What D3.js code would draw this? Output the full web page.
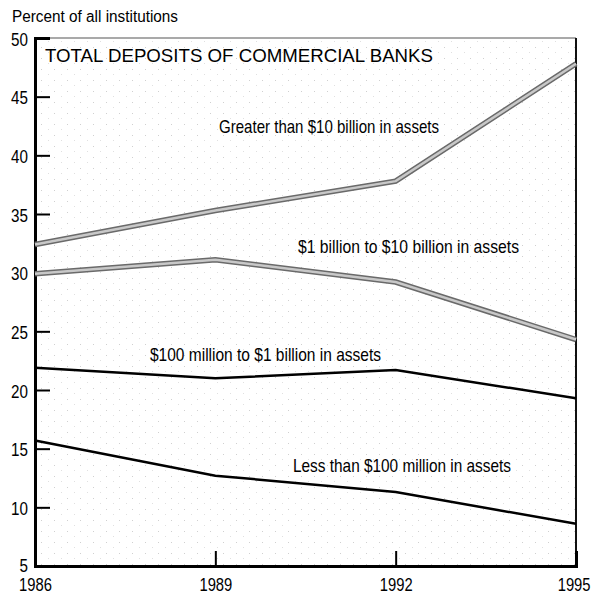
<!DOCTYPE html>
<html><head><meta charset="utf-8">
<script src="https://cdn.jsdelivr.net/npm/d3@7/dist/d3.min.js"></script>
<style>
html,body{margin:0;padding:0;background:#fff;}
svg{display:block;}
text{font-family:"Liberation Sans",Arial,Helvetica,sans-serif;}
</style></head>
<body>
<svg id="chart" width="594" height="595"></svg>
<script>
const years = [1986, 1989, 1992, 1995];
const yTicks = [5, 10, 15, 20, 25, 30, 35, 40, 45, 50];
const seriesNames = [
  "Greater than $10 billion in assets",
  "$1 billion to $10 billion in assets",
  "$100 million to $1 billion in assets",
  "Less than $100 million in assets"
];
const greater10B = [32.4, 35.3, 37.8, 47.8];
const b1to10 = [29.9, 31.1, 29.2, 24.3];
const m100to1B = [21.9, 21.0, 21.7, 19.3];
const less100M = [15.7, 12.7, 11.3, 8.6];
const title = "TOTAL DEPOSITS OF COMMERCIAL BANKS";
const yTitle = "Percent of all institutions";

const svg = d3.select("#chart");
const L = 35, R = 576, T = 38, B = 566;
const x = d3.scaleLinear().domain([1986, 1995]).range([L, R]);
const y = d3.scaleLinear().domain([5, 50]).range([B, T]);

// condense text horizontally (narrow Helvetica look)
function condense(sel, f) {
  sel.each(function() {
    const w = this.getComputedTextLength();
    d3.select(this).attr("textLength", w * f).attr("lengthAdjust", "spacingAndGlyphs");
  });
}

// light stipple background
const defs = svg.append("defs");
const pat = defs.append("pattern").attr("id","stip").attr("width",13).attr("height",11).attr("patternUnits","userSpaceOnUse");
pat.append("rect").attr("x",2).attr("y",3).attr("width",1).attr("height",1).attr("fill","#d0d0d0");
pat.append("rect").attr("x",9).attr("y",8).attr("width",1).attr("height",1).attr("fill","#e0e0e0");
svg.append("rect").attr("x",L).attr("y",T).attr("width",R-L).attr("height",B-T).attr("fill","url(#stip)");

// frame
svg.append("line").attr("x1",L).attr("x2",R).attr("y1",T).attr("y2",T).attr("stroke","#555").attr("stroke-width",1.2);
svg.append("line").attr("x1",R).attr("x2",R).attr("y1",T).attr("y2",B).attr("stroke","#111").attr("stroke-width",2);

// y axis
const yAxis = d3.axisLeft(y).tickValues(yTicks).tickSize(-15).tickPadding(7).tickFormat(d3.format("d"));
const ya = svg.append("g").attr("transform",`translate(${L},0)`).call(yAxis);
ya.attr("font-family",null).attr("font-size",null);
ya.select(".domain").attr("stroke","#000").attr("stroke-width",3);
ya.selectAll(".tick line").attr("stroke","#000").attr("stroke-width",2);
ya.selectAll(".tick text").attr("font-size",19).attr("fill","#000")
  .attr("dy",(d)=> d===5 ? "0.3em" : "0.38em").call(condense, 0.8);

// x axis
const xAxis = d3.axisBottom(x).tickValues(years).tickSize(-15).tickPadding(12).tickFormat(d3.format("d"));
const xa = svg.append("g").attr("transform",`translate(0,${B})`).call(xAxis);
xa.attr("font-family",null).attr("font-size",null);
xa.select(".domain").attr("stroke","#000").attr("stroke-width",3);
xa.selectAll(".tick line").attr("stroke","#000").attr("stroke-width",2)
  .attr("display",(d)=> (d===1986||d===1995)?"none":null);
xa.selectAll(".tick text").attr("font-size",18).attr("fill","#000").attr("dy","0.7em")
  .attr("text-anchor",(d)=> d===1995 ? "end" : "middle")
  .attr("dx",(d)=> d===1995 ? 14 : 0).call(condense, 0.82);

const line = d3.line().x((d,i)=>x(years[i])).y(d=>y(d));

// gray double lines
[greater10B, b1to10].forEach(s=>{
  svg.append("path").attr("d",line(s)).attr("fill","none").attr("stroke","#6a6a6a").attr("stroke-width",5.5);
  svg.append("path").attr("d",line(s)).attr("fill","none").attr("stroke","#c8c8c8").attr("stroke-width",2.5);
});
[m100to1B, less100M].forEach(s=>{
  svg.append("path").attr("d",line(s)).attr("fill","none").attr("stroke","#000").attr("stroke-width",2.5);
});

// texts
svg.append("text").attr("x",12).attr("y",22).attr("font-size",16).text(yTitle).attr("textLength",166).attr("lengthAdjust","spacingAndGlyphs");
svg.append("text").attr("x",45).attr("y",62).attr("font-size",19).text(title).attr("textLength",388).attr("lengthAdjust","spacingAndGlyphs");

const labelPos = [[219,133,220],[298,253,221],[150,361,231],[293,472,218]];
seriesNames.forEach((n,i)=>{
  svg.append("text").attr("x",labelPos[i][0]).attr("y",labelPos[i][1]).attr("font-size",19)
    .text(n).attr("textLength",labelPos[i][2]).attr("lengthAdjust","spacingAndGlyphs");
});
</script>
</body></html>
